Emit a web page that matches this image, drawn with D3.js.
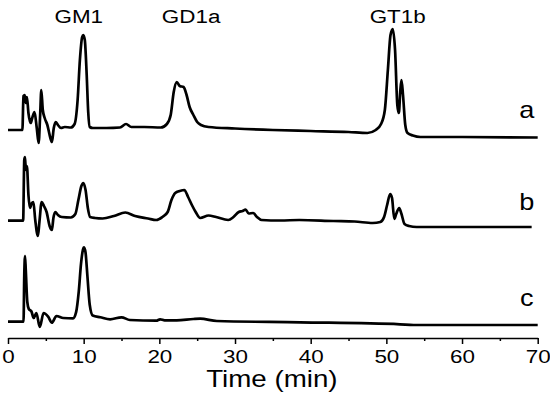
<!DOCTYPE html>
<html>
<head>
<meta charset="utf-8">
<script src="https://cdn.jsdelivr.net/npm/d3@7"></script>
<style>
  body { margin: 0; background: #fff; }
  svg { display: block; font-family: Arial, "Liberation Sans", sans-serif; }
  .trace { fill: none; stroke: #000; stroke-width: 2.7; stroke-linejoin: round; }
  .axis path, .axis line { stroke: #000; stroke-width: 1.5; }
  .axis text { font-size: 19px; fill: #000; }
</style>
</head>
<body>
<svg id="chart" width="550" height="393"></svg>
<script>
// retention time (min) and detector signal (arbitrary units) for each run
var timeA = [0, 1.9, 2.05, 2.2, 2.35, 2.5, 2.7, 3.0, 3.2, 3.5, 3.8, 4.05, 4.25, 4.4, 4.6, 4.85, 5.2, 5.6, 5.8, 6.05, 6.3, 6.6, 7.0, 7.5, 8.3, 8.8, 9.2, 9.5, 9.8, 9.95, 10.15, 10.4, 10.6, 10.8, 11.2, 13, 14.8, 15.6, 16.3, 18, 20.2, 21.0, 21.5, 21.9, 22.3, 22.7, 23.2, 23.6, 24.0, 24.5, 25.0, 25.5, 26.5, 30, 35, 40, 45, 47.5, 48.6, 49.3, 49.8, 50.2, 50.55, 50.85, 51.15, 51.45, 51.65, 51.85, 52.0, 52.2, 52.5, 52.8, 53.5, 54.5, 60, 70]
var signalA = [1.7, 1.7, 35.7, 36.7, 28.7, 34.7, 18.7, 8.7, 13.7, 19.7, 3.7, -11.3, 16.7, 41.7, 21.7, 13.7, 6.7, -6.3, -10.3, 3.7, 9.7, 6.7, 3.7, 4.7, 4.2, 7.7, 31.7, 71.7, 94.7, 96.7, 91.7, 56.7, 19.7, 4.7, 3.7, 3.7, 4.2, 7.7, 4.7, 4.7, 4.2, 7.7, 16.7, 39.7, 49.7, 45.7, 44.7, 36.7, 24.7, 16.7, 9.7, 6.7, 4.7, 3.2, 1.7, 0.7, -0.3, -1.3, 1.7, 7.7, 21.7, 61.7, 96.7, 102.7, 81.7, 26.7, 18.7, 41.7, 51.7, 36.7, 6.7, -1.3, -3.8, -5.3, -5.3, -5.8]

var timeB = [0, 2.0, 2.15, 2.25, 2.35, 2.5, 2.7, 2.9, 3.15, 3.35, 3.6, 3.95, 4.15, 4.45, 4.75, 5.1, 5.5, 5.8, 6.0, 6.25, 6.6, 7.1, 8.3, 8.9, 9.3, 9.7, 9.95, 10.25, 10.55, 10.85, 11.5, 12.5, 14, 15.5, 16.8, 18.5, 19.6, 20.4, 21.1, 21.6, 22.1, 22.7, 23.3, 23.8, 24.3, 24.8, 25.4, 26.5, 27.5, 29.1, 29.8, 30.5, 31.0, 31.4, 31.8, 32.4, 32.9, 33.5, 36, 38.5, 43, 45.8, 48.2, 49.2, 49.7, 50.1, 50.5, 50.75, 51.05, 51.3, 51.7, 52.0, 52.4, 53, 54, 69.2]
var signalB = [1, 1, 61.7, 64.7, 51.7, 55.7, 26.7, 13.7, 18.7, 19.7, 1.7, -14.3, -0.3, 19.7, 15.7, 9.7, -4.3, -8.3, 3.7, 9.7, 6.7, 4.7, 4.2, 7.7, 21.7, 35.7, 38.7, 31.7, 13.7, 4.7, 3.7, 3.2, 5.7, 9.2, 5.7, 3.2, 1.7, 4.7, 9.7, 21.7, 28.7, 30.7, 31.7, 24.7, 16.7, 9.7, 3.7, 6.2, 4.7, 1.7, 4.7, 9.7, 10.7, 12.2, 8.2, 8.7, 4.7, 1.7, 1.2, 1.7, 0.7, 0.2, -1.3, -0.3, 4.7, 16.7, 27.7, 23.7, 2.7, 7.7, 13.7, 7.7, -2.3, -4.3, -5.3, -5.3]

var timeC = [0, 2.05, 2.15, 2.25, 2.35, 2.55, 2.75, 3.1, 3.4, 3.75, 4.2, 4.7, 5.3, 5.8, 6.4, 7.3, 8.6, 9.0, 9.35, 9.65, 9.9, 10.05, 10.25, 10.5, 10.8, 11.2, 12.2, 13.5, 15.0, 16.1, 19.6, 20.1, 20.7, 22.3, 24.5, 25.4, 27.6, 38.6, 51.8, 53.6, 70]
var signalC = [0, 0, 46.7, 65.7, 51.7, 19.7, 12.7, 10.2, 3.7, 8.7, -5.3, 8.7, 5, -1, 5.7, 3.7, 3.4, 9.5, 30, 58, 72, 74.4, 69, 45, 17, 6.2, 4.4, 2.4, 4.4, 1.7, 1, 2.4, 1.4, 1.4, 2.7, 3, 0.7, -0.6, -2.6, -3.3, -3.3]

var traceNames = ["a", "b", "c"]
var traceOffsets = [190, 100, 0]
var peakNames = ["GM1", "GD1a", "GT1b"]
var peakTimes = [9.35, 24.2, 51.5]
var xTicks = [0, 10, 20, 30, 40, 50, 60, 70]
var xMinorTicks = [5, 15, 25, 35, 45, 55, 65]
var xLabel = "Time (min)"

var svg = d3.select("#chart")
var stretch = "scale(1.18,1)"

var x = d3.scaleLinear().domain([0, 70]).range([8, 537.7])
var y = d3.scaleLinear().domain([0, 300]).range([321.7, 21.7])
var axisY = 338

var traces = [
  { name: traceNames[0], offset: traceOffsets[0], time: timeA, signal: signalA },
  { name: traceNames[1], offset: traceOffsets[1], time: timeB, signal: signalB },
  { name: traceNames[2], offset: traceOffsets[2], time: timeC, signal: signalC }
]

function drawTrace(tr) {
  var pts = tr.time.map(function (t, i) { return [t, tr.signal[i] + tr.offset] })
  var line = d3.line()
    .x(function (d) { return x(d[0]) })
    .y(function (d) { return y(d[1]) })
    .curve(d3.curveMonotoneX)
  svg.append("path")
    .attr("class", "trace")
    .attr("d", line(pts))
}

traces.forEach(drawTrace)

// run labels at the right end
var labelDy = [-13.5, -11.5, -15.5]
traces.forEach(function (tr, i) {
  svg.append("text")
    .attr("transform", "translate(" + (x(70) - 11) + "," + (y(tr.offset) + labelDy[i]) + ") " + stretch)
    .attr("text-anchor", "middle")
    .attr("font-size", 23)
    .text(tr.name)
})

// peak names along the top
peakNames.forEach(function (p, i) {
  svg.append("text")
    .attr("transform", "translate(" + x(peakTimes[i]) + ",23.3) " + stretch)
    .attr("text-anchor", "middle")
    .attr("font-size", 19)
    .text(p)
})

// x axis
var gx = svg.append("g")
  .attr("class", "axis")
  .attr("transform", "translate(0," + axisY + ")")
  .call(d3.axisBottom(x).tickValues(xTicks).tickSize(6).tickSizeOuter(0).tickPadding(6))
gx.selectAll(".tick text").attr("transform", stretch)

svg.append("g")
  .attr("class", "axis")
  .attr("transform", "translate(0," + axisY + ")")
  .call(d3.axisBottom(x).tickValues(xMinorTicks).tickSize(3).tickFormat(""))
  .select(".domain").remove()

svg.append("text")
  .attr("transform", "translate(" + (x(35) - 1) + ",386.7) " + stretch)
  .attr("text-anchor", "middle")
  .attr("font-size", 23.5)
  .text(xLabel)
</script>
</body>
</html>
